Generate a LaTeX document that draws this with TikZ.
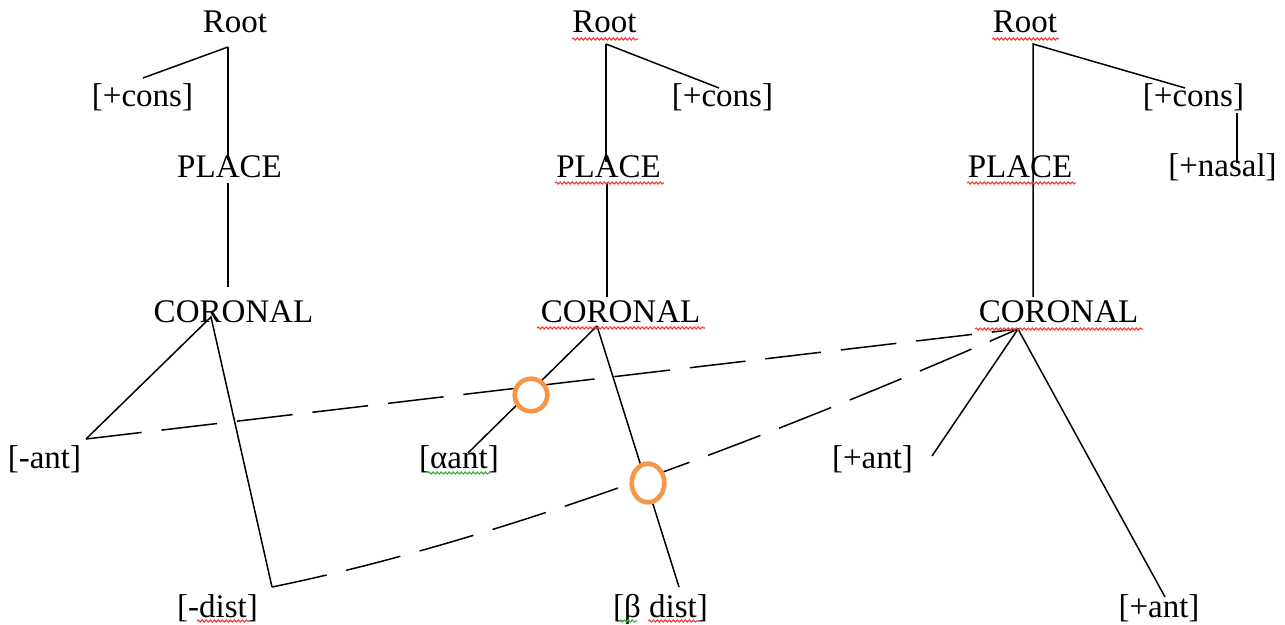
\documentclass[tikz,border=0pt]{standalone}
\usepackage{fontspec}
\setmainfont{Liberation Serif}
\usetikzlibrary{shapes.geometric,decorations.pathmorphing}
\definecolor{accentorange}{HTML}{F79646}
\definecolor{spellred}{HTML}{F04040}
\definecolor{spellgreen}{HTML}{40B040}
\begin{document}
\begin{tikzpicture}[x=0.5pt,y=-0.5pt,
  lbl/.style={inner sep=0pt, anchor=base, font=\fontsize{16.5}{20}\selectfont},
  link/.style={line width=0.75pt, black},
  tie/.style={line width=0.75pt, black, dash pattern=on 28pt off 10pt},
  ring/.style={draw=accentorange, line width=2.3pt, fill=white, inner sep=0pt},
  squig/.style={decorate, decoration={snake, segment length=2pt, amplitude=0.5pt}, line width=0.55pt},
]
\useasboundingbox (0,0) rectangle (1285,625);

% ---------- labels ----------
% first tree
\node[lbl] (root1)  at (235,33)   {Root};
\node[lbl] (cons1)  at (142.5,107) {[+cons]};
\node[lbl] (place1) at (229.5,178) {PLACE};
\node[lbl] (cor1)   at (233.5,323) {CORONAL};
\node[lbl] (ant1)   at (44.5,468)  {[-ant]};
\node[lbl] (dist1)  at (217.5,617) {[-dist]};
% second tree
\node[lbl] (root2)  at (604.5,33)  {Root};
\node[lbl] (cons2)  at (722.5,107) {[+cons]};
\node[lbl] (place2) at (608.5,178) {PLACE};
\node[lbl] (cor2)   at (620.5,323) {CORONAL};
\node[lbl] (ant2)   at (459,468)   {[αant]};
\node[lbl] (dist2)  at (660.5,617) {[β dist]};
% third tree
\node[lbl] (root3)  at (1025,33)   {Root};
\node[lbl] (cons3)  at (1193.5,107) {[+cons]};
\node[lbl] (nasal3) at (1222.5,177) {[+nasal]};
\node[lbl] (place3) at (1020,178)  {PLACE};
\node[lbl] (cor3)   at (1058.5,323) {CORONAL};
\node[lbl] (antA3)  at (872.5,468) {[+ant]};
\node[lbl] (antB3)  at (1159,617)  {[+ant]};

% ---------- attachment points ----------
\coordinate (root1-j)  at (228,47);
\coordinate (cons1-j)  at (143,78);
\coordinate (place1-t) at (228,160);
\coordinate (place1-b) at (228,183);
\coordinate (cor1-t)   at (228,287);
\coordinate (cor1-j)   at (211,317);
\coordinate (ant1-j)   at (86,439);
\coordinate (dist1-j)  at (272,587);

\coordinate (root2-j)  at (606,44);
\coordinate (cons2-j)  at (719,88);
\coordinate (place2-t) at (606,162);
\coordinate (place2-b) at (607,183);
\coordinate (cor2-t)   at (607,297);
\coordinate (cor2-j)   at (597,326);
\coordinate (ant2-j)   at (468,453);
\coordinate (dist2-j)  at (679,587);

\coordinate (root3-j)  at (1033,44);
\coordinate (cons3-j)  at (1185,88);
\coordinate (cons3-b)  at (1237,113);
\coordinate (nasal3-t) at (1237,163);
\coordinate (cor3-t)   at (1033,297);
\coordinate (cor3-j)   at (1018,329);
\coordinate (antA3-j)  at (932,456);
\coordinate (antB3-j)  at (1165,597);

% ---------- association lines ----------
\draw[link] (root1-j) -- (cons1-j);
\draw[link] (root1-j) -- (place1-t);
\draw[link] (place1-b) -- (cor1-t);
\draw[link] (ant1-j) -- (cor1-j) -- (dist1-j);

\draw[link] (root2-j) -- (cons2-j);
\draw[link] (root2-j) -- (place2-t);
\draw[link] (place2-b) -- (cor2-t);
\draw[link] (cor2-j) -- (ant2-j);
\draw[link] (cor2-j) -- (dist2-j);

\draw[link] (cons3-j) -- (root3-j) -- (cor3-t);
\draw[link] (cons3-b) -- (nasal3-t);
\draw[link] (antA3-j) -- (cor3-j) -- (antB3-j);

% ---------- spreading (dashed) ----------
\draw[tie] (ant1-j) -- (cor3-j);
\draw[tie] (dist1-j) .. controls (464,548) and (711,463) .. (cor3-j);

% ---------- delinked crossings ----------
\node[ring, circle, minimum size=16.3pt] (cut1) at (531,395) {};
\node[ring, ellipse, minimum width=16.3pt, minimum height=19.3pt] (cut2) at (648,483) {};

% ---------- wavy underlines ----------
\draw[squig, spellred] (572,39) -- (638,39);
\draw[squig, spellred] (992,39) -- (1059,39);
\draw[squig, spellred] (555,183) -- (664,183);
\draw[squig, spellred] (967,183) -- (1076,183);
\draw[squig, spellred] (537,328) -- (705,328);
\draw[squig, spellred] (975,329) -- (1143,329);
\draw[squig, spellred] (197,621) -- (248,621);
\draw[squig, spellred] (648,621) -- (698,621);
\draw[squig, spellgreen] (619,621) -- (637,621);
\draw[squig, spellgreen] (428,473) -- (490,473);
\end{tikzpicture}
\end{document}
